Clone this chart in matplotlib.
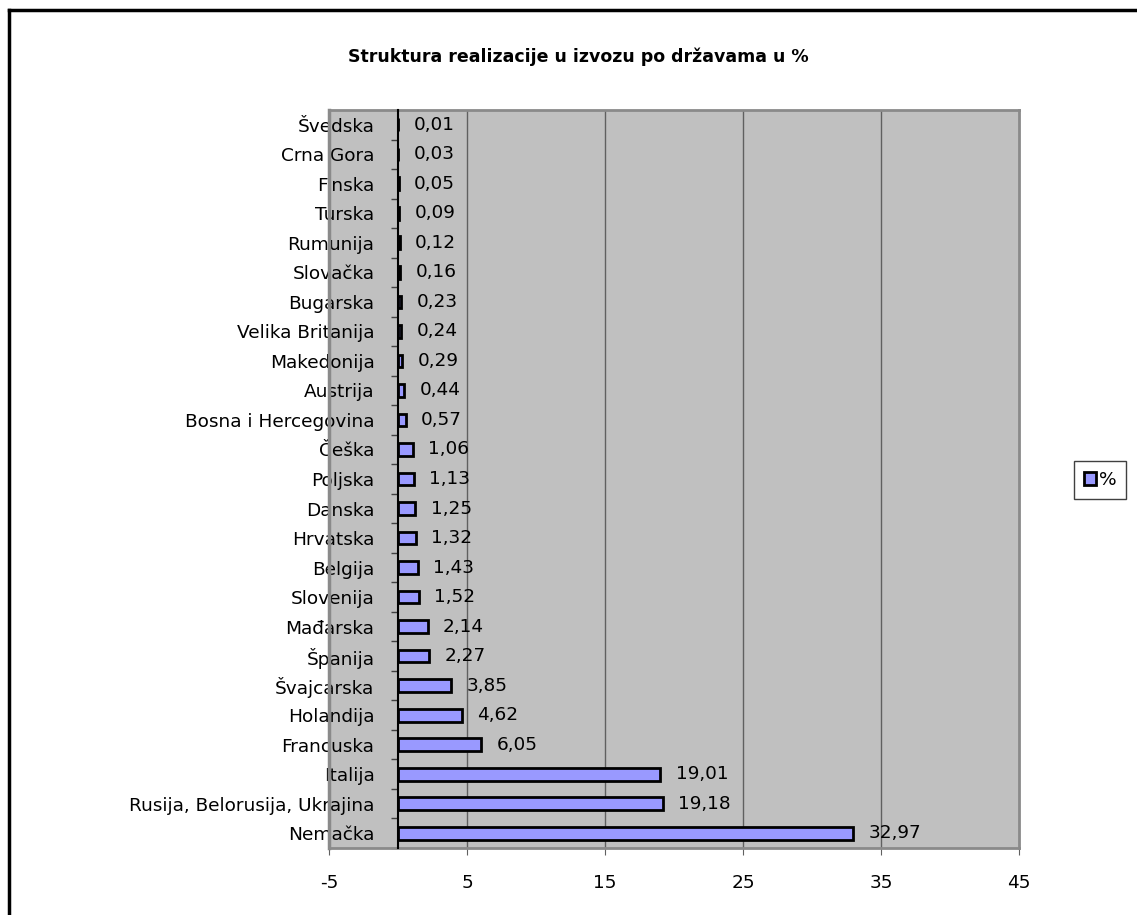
import matplotlib
matplotlib.use('Agg')
import matplotlib.pyplot as plt
import numpy as np
from matplotlib.lines import Line2D

plt.rcParams['font.family'] = ['DejaVu Sans']
plt.rcParams['axes.unicode_minus'] = False

# Podaci, odozdo prema gore
drzave = ['Nemačka', 'Rusija, Belorusija, Ukrajina', 'Italija', 'Francuska',
          'Holandija', 'Švajcarska', 'Španija', 'Mađarska', 'Slovenija',
          'Belgija', 'Hrvatska', 'Danska', 'Poljska', 'Češka',
          'Bosna i Hercegovina', 'Austrija', 'Makedonija', 'Velika Britanija',
          'Bugarska', 'Slovačka', 'Rumunija', 'Turska', 'Finska', 'Crna Gora',
          'Švedska']
procenti = [32.97, 19.18, 19.01, 6.05, 4.62, 3.85, 2.27, 2.14, 1.52, 1.43,
            1.32, 1.25, 1.13, 1.06, 0.57, 0.44, 0.29, 0.24, 0.23, 0.16, 0.12,
            0.09, 0.05, 0.03, 0.01]
x_ticks = [-5, 5, 15, 25, 35, 45]

fs = 13.3

fig = plt.figure(figsize=(11.37, 9.15), dpi=100)
ax = fig.add_axes([329 / 1137, 1 - 848 / 915, 690 / 1137, 738 / 915])
ax.set_facecolor('#C0C0C0')

y = np.arange(len(drzave))
bars = ax.barh(y, procenti, height=0.43, color='#9999FF', edgecolor='black',
               linewidth=2, label='%', zorder=3)

for yi, v in zip(y, procenti):
    ax.annotate(f'{v:.2f}'.replace('.', ','), (v, yi), xytext=(11, 0),
                textcoords='offset points', va='center', ha='left',
                fontsize=fs, zorder=4)

ax.set_xlim(-5, 45)
ax.set_ylim(-0.5, len(drzave) - 0.5)

# mreza
for g in [5, 15, 25, 35]:
    ax.axvline(g, color='#606060', linewidth=1, zorder=1)

# okvir
for s in ['top', 'right', 'bottom']:
    ax.spines[s].set_color('#8a8a8a')
    ax.spines[s].set_linewidth(2)
ax.axvline(-5, color='#8a8a8a', linewidth=2.5, clip_on=False, zorder=2)
ax.spines['left'].set_position(('data', 0))
ax.spines['left'].set_color('black')
ax.spines['left'].set_linewidth(1.5)
ax.spines['left'].set_zorder(5)

ax.set_xticks(x_ticks)
ax.set_xticklabels([str(t) for t in x_ticks], fontsize=fs)
ax.tick_params(axis='x', direction='out', length=5, color='#606060', pad=14)

ax.set_yticks(y)
ax.set_yticklabels(drzave, fontsize=fs)
ax.set_yticks(np.arange(len(drzave) + 1) - 0.5, minor=True)
ax.tick_params(axis='y', which='major', length=0, pad=17)
ax.tick_params(axis='y', which='minor', length=5, color='#404040', width=1)

fig.text(578 / 1137, 1 - 57 / 915, 'Struktura realizacije u izvozu po državama u %',
         ha='center', va='center', fontsize=12.5, fontweight='bold')

leg = fig.legend(handles=[bars], labels=['%'], loc='center',
                 bbox_to_anchor=(1100 / 1137, 1 - 480 / 915), fontsize=fs,
                 handlelength=0.65, handleheight=0.65, handletextpad=0.15,
                 fancybox=False, framealpha=1, borderpad=0.55, borderaxespad=0)
leg.get_frame().set_edgecolor('#404040')
leg.get_frame().set_linewidth(1)

# spoljni okvir
fig.add_artist(Line2D([9 / 1137, 9 / 1137], [0, 1 - 10 / 915], color='black',
                      linewidth=2.5, transform=fig.transFigure))
fig.add_artist(Line2D([9 / 1137, 1], [1 - 10 / 915, 1 - 10 / 915], color='black',
                      linewidth=2.5, transform=fig.transFigure))

fig.savefig('out.png', dpi=100)
